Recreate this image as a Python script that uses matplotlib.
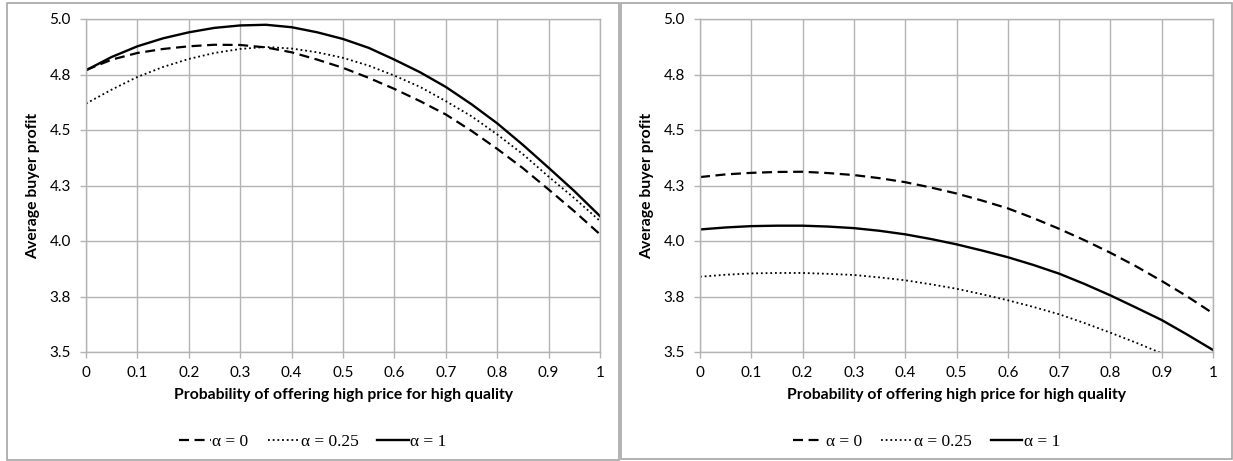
#!/usr/bin/env python3

import numpy as np
import matplotlib.pyplot as plt
from matplotlib.patches import Rectangle

# probability of offering high price for high quality
prob = [0, 0.05, 0.1, 0.15, 0.2, 0.25, 0.3, 0.35, 0.4, 0.45, 0.5,
        0.55, 0.6, 0.65, 0.7, 0.75, 0.8, 0.85, 0.9, 0.95, 1]

# left panel
left_a0 = [4.770, 4.817, 4.847, 4.865, 4.877, 4.884, 4.883, 4.872, 4.850, 4.817, 4.780,
           4.735, 4.685, 4.630, 4.570, 4.496, 4.415, 4.328, 4.232, 4.134, 4.030]
left_a025 = [4.619, 4.682, 4.739, 4.784, 4.820, 4.847, 4.865, 4.874, 4.867, 4.850, 4.825,
             4.790, 4.745, 4.694, 4.630, 4.562, 4.480, 4.391, 4.290, 4.193, 4.090]
left_a1 = [4.769, 4.829, 4.877, 4.913, 4.940, 4.960, 4.971, 4.974, 4.963, 4.940, 4.910,
           4.870, 4.817, 4.760, 4.694, 4.616, 4.530, 4.433, 4.330, 4.225, 4.112]

# right panel
right_a0 = [4.288, 4.300, 4.307, 4.311, 4.312, 4.306, 4.297, 4.283, 4.265, 4.241, 4.214,
            4.182, 4.147, 4.103, 4.055, 4.003, 3.947, 3.886, 3.820, 3.750, 3.674]
right_a025 = [3.839, 3.848, 3.854, 3.856, 3.856, 3.852, 3.847, 3.836, 3.823, 3.805, 3.785,
              3.760, 3.733, 3.703, 3.670, 3.630, 3.587, 3.542, 3.494, 3.440, 3.385]
right_a1 = [4.052, 4.061, 4.067, 4.069, 4.069, 4.065, 4.058, 4.046, 4.030, 4.009, 3.985,
            3.957, 3.927, 3.892, 3.853, 3.806, 3.755, 3.700, 3.644, 3.578, 3.509]

series_names = ['\u03b1 = 0', '\u03b1 = 0.25', '\u03b1 = 1']
x_ticks = [0, 0.1, 0.2, 0.3, 0.4, 0.5, 0.6, 0.7, 0.8, 0.9, 1]
x_labels = ['0', '0.1', '0.2', '0.3', '0.4', '0.5', '0.6', '0.7', '0.8', '0.9', '1']
y_ticks = [3.5, 3.75, 4.0, 4.25, 4.5, 4.75, 5.0]
y_labels = ['3.5', '3.8', '4.0', '4.3', '4.5', '4.8', '5.0']

grid_col = '#b3b3b3'
W, H = 1233, 461

fig = plt.figure(figsize=(W / 100, H / 100), dpi=100)

# panel frames (pixels: left, top, right, bottom)
for x0, y0, x1, y1 in [(7, 3, 619, 460), (621, 3, 1232, 459)]:
    fig.patches.append(Rectangle((x0 / W, 1 - y1 / H), (x1 - x0) / W, (y1 - y0) / H,
                                 transform=fig.transFigure, fill=False,
                                 edgecolor='#a6a6a6', linewidth=1.2))

panels = [((86, 600), (left_a0, left_a025, left_a1), (7, 619)),
          ((700, 1213), (right_a0, right_a025, right_a1), (621, 1232))]

for (px0, px1), data, (bx0, bx1) in panels:
    ax = fig.add_axes([px0 / W, 1 - 352 / H, (px1 - px0) / W, (352 - 19) / H])
    styles = [dict(linestyle=(0, (4.5, 2.5)), linewidth=1.6),
              dict(linestyle=(0, (1, 1.6)), linewidth=1.3),
              dict(linestyle='-', linewidth=1.7)]
    handles = []
    for vals, st, name in zip(data, styles, series_names):
        h, = ax.plot(prob, vals, color='black', label=name, **st)
        handles.append(h)

    ax.set_xlim(0, 1)
    ax.set_ylim(3.5, 5.0)
    ax.set_xticks(x_ticks)
    ax.set_xticklabels(x_labels)
    ax.set_yticks(y_ticks)
    ax.set_yticklabels(y_labels)
    ax.grid(True, color=grid_col, linewidth=1.0)
    ax.set_axisbelow(True)
    for s in ax.spines.values():
        s.set_color(grid_col)
        s.set_linewidth(1.0)
    ax.tick_params(axis='both', colors=grid_col, labelcolor='black',
                   length=4, width=1.0, labelsize=11)
    ax.tick_params(axis='y', pad=7)
    ax.tick_params(axis='x', pad=6)
    for lbl in ax.get_xticklabels() + ax.get_yticklabels():
        lbl.set_fontfamily('Lato')

    ax.set_xlabel('Probability of offering high price for high quality',
                  fontfamily='Lato', fontweight='bold', fontsize=11.3, labelpad=6)
    ax.set_ylabel('Average buyer profit', fontfamily='Lato', fontweight='bold',
                  fontsize=11.3, labelpad=7)

    leg = fig.legend(handles=handles, loc='center',
                     bbox_to_anchor=((bx0 + bx1) / 2 / W, 1 - 442 / H),
                     ncol=3, frameon=False, handlelength=1.8, handletextpad=0.1,
                     columnspacing=1.1,
                     prop={'family': 'Liberation Serif', 'size': 12.5})

fig.savefig('out.png', dpi=100)
